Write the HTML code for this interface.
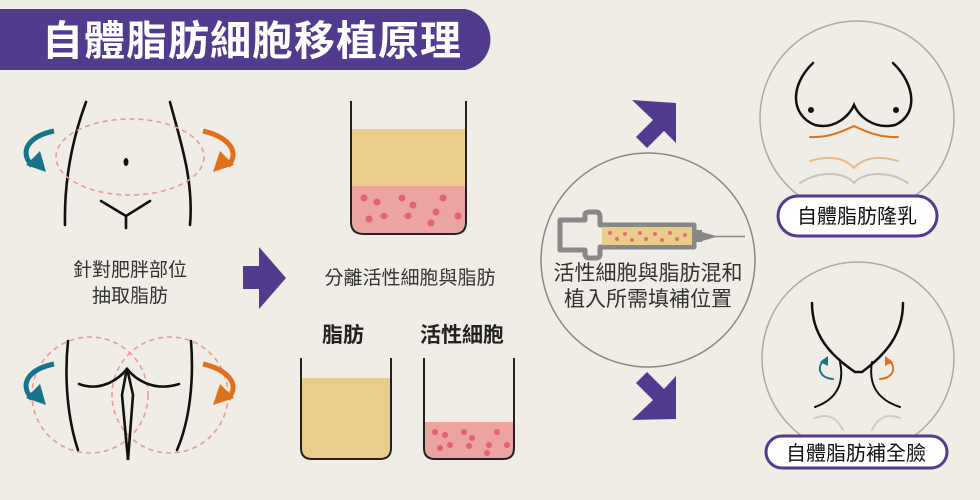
<!DOCTYPE html>
<html><head><meta charset="utf-8"><style>
html,body{margin:0;padding:0;background:#f0ede6;}
svg{display:block}
text{font-family:"Liberation Sans","Noto Sans CJK TC",sans-serif;}
</style></head><body>
<svg width="980" height="500" viewBox="0 0 980 500" xmlns="http://www.w3.org/2000/svg">
<rect width="980" height="500" fill="#f0ede6"/>
<!-- title -->
<path d="M0 9 H465 A31 31 0 0 1 465 70 H0 Z" fill="#523a8e"/>
<text x="252" y="55" font-size="41" fill="#fff" text-anchor="middle" font-weight="bold" letter-spacing="1">自體脂肪細胞移植原理</text>

<!-- top body -->
<g fill="none" stroke="#111" stroke-width="2.6" stroke-linecap="round">
<path d="M86 102 C72 140 64 180 65 225"/>
<path d="M170 102 C180 140 194 180 190 225"/>
<path d="M101 201 L126 216 L150 201 M126 216 V228"/>
</g>
<ellipse cx="126" cy="162" rx="2.5" ry="4" fill="#111"/>
<ellipse cx="130" cy="157" rx="74" ry="38" fill="none" stroke="#e89a98" stroke-width="1.6" stroke-dasharray="5 4"/>
<!-- arrows teal/orange top -->
<path d="M54 131 C30 136 18 150 32 166" fill="none" stroke="#16748a" stroke-width="5"/>
<path d="M26 165 L46 172 L40 151 Z" fill="#16748a"/>
<path d="M203 131 C225 136 242 150 228 166" fill="none" stroke="#e0701c" stroke-width="5"/>
<path d="M234 165 L213 172 L220 151 Z" fill="#e0701c"/>

<text x="130" y="276" font-size="19" fill="#333" text-anchor="middle">針對肥胖部位</text>
<text x="130" y="302" font-size="19" fill="#333" text-anchor="middle">抽取脂肪</text>

<!-- bottom body -->
<circle cx="90" cy="395" r="58" fill="none" stroke="#e89a98" stroke-width="1.6" stroke-dasharray="5 4"/>
<circle cx="170" cy="395" r="58" fill="none" stroke="#e89a98" stroke-width="1.6" stroke-dasharray="5 4"/>
<g fill="none" stroke="#111" stroke-width="2.6" stroke-linecap="round">
<path d="M68 341 C64 380 68 420 78 450"/>
<path d="M191 341 C194 380 190 420 177 450"/>
<path d="M79 384 C100 392 118 380 127 369 C136 380 154 392 179 384"/>
<path d="M127 368 L122 395 L128 460 L133 395 Z"/>
</g>
<path d="M54 364 C30 369 18 383 32 399" fill="none" stroke="#16748a" stroke-width="5"/>
<path d="M26 398 L46 405 L40 384 Z" fill="#16748a"/>
<path d="M203 364 C225 369 242 383 228 399" fill="none" stroke="#e0701c" stroke-width="5"/>
<path d="M234 398 L213 405 L220 384 Z" fill="#e0701c"/>

<!-- right arrow -->
<path d="M243 266 H259 V247 L286 278 L259 309 V289 H243 Z" fill="#523a8e"/>

<!-- beaker 1 -->
<rect x="352" y="129" width="113" height="57" fill="#e9cd88"/>
<path d="M352 186 H465 V222 Q465 233 453 233 H364 Q352 233 352 222 Z" fill="#eba49f"/>
<path d="M351 101 V222 Q351 234 364 234 H454 Q466 234 466 222 V101" fill="none" stroke="#222" stroke-width="2"/>
<g fill="#e36370">
<circle cx="364" cy="198" r="3.5"/><circle cx="377" cy="202" r="3.5"/><circle cx="402" cy="198" r="3.5"/><circle cx="413" cy="205" r="3.5"/><circle cx="443" cy="198" r="3.5"/><circle cx="369" cy="219" r="3.5"/><circle cx="384" cy="216" r="3.5"/><circle cx="408" cy="216" r="3.5"/><circle cx="436" cy="212" r="3.5"/><circle cx="458" cy="216" r="3.5"/><circle cx="431" cy="223" r="3.5"/>
</g>
<text x="410" y="284" font-size="19" fill="#333" text-anchor="middle">分離活性細胞與脂肪</text>
<text x="343" y="342" font-size="21" fill="#222" text-anchor="middle" font-weight="bold">脂肪</text>
<text x="462" y="342" font-size="21" fill="#222" text-anchor="middle" font-weight="bold">活性細胞</text>

<!-- beaker 2 -->
<path d="M302 378 H390 V448 Q390 458 380 458 H312 Q302 458 302 448 Z" fill="#e9cd88"/>
<path d="M301 358 V448 Q301 459 312 459 H380 Q391 459 391 448 V358" fill="none" stroke="#222" stroke-width="2"/>
<!-- beaker 3 -->
<path d="M425 422 H513 V448 Q513 458 503 458 H435 Q425 458 425 448 Z" fill="#eba49f"/>
<path d="M424 358 V448 Q424 459 435 459 H503 Q514 459 514 448 V358" fill="none" stroke="#222" stroke-width="2"/>
<g fill="#e36370">
<circle cx="435" cy="432" r="3"/><circle cx="445" cy="435" r="3"/><circle cx="464" cy="432" r="3"/><circle cx="472" cy="438" r="3"/><circle cx="497" cy="432" r="3"/><circle cx="440" cy="448" r="3"/><circle cx="450" cy="445" r="3"/><circle cx="469" cy="446" r="3"/><circle cx="489" cy="445" r="3"/><circle cx="507" cy="445" r="3"/><circle cx="487" cy="453" r="3"/>
</g>

<!-- diagonal arrows -->
<path d="M632 100 L676 103 L676 143 L664 131 L647 148 L636 137 L653 120 Z" fill="#523a8e"/>
<path d="M632 420 L676 419 L676 376 L664 389 L647 372 L636 383 L653 400 Z" fill="#523a8e"/>

<!-- syringe circle -->
<circle cx="648" cy="260" r="107" fill="#f0ede6" stroke="#888" stroke-width="1.5"/>
<g fill="none" stroke="#888" stroke-width="5" stroke-linejoin="round">
<path d="M560 220 H585 V215 Q585 212 590 212 H596 Q600 212 600 218 V225 H694 V247 H600 V254 Q600 258 596 258 H590 Q585 258 585 254 V250 H560 Z"/>
</g>
<rect x="602" y="227" width="90" height="18" fill="#e9cd88"/>
<g fill="#e56b85">
<circle cx="610" cy="233" r="2"/><circle cx="617" cy="239" r="2"/><circle cx="625" cy="234" r="2"/><circle cx="632" cy="240" r="2"/><circle cx="640" cy="233" r="2"/><circle cx="646" cy="239" r="2"/><circle cx="655" cy="234" r="2"/><circle cx="662" cy="240" r="2"/><circle cx="670" cy="233" r="2"/><circle cx="677" cy="239" r="2"/><circle cx="685" cy="235" r="2"/>
</g>
<rect x="694" y="230" width="8" height="12" fill="#888"/>
<path d="M702 232 L716 236 L716 237 L702 241 Z" fill="#888"/>
<line x1="714" y1="236.5" x2="745" y2="236.5" stroke="#888" stroke-width="1.5"/>
<text x="648" y="280" font-size="21" fill="#333" text-anchor="middle">活性細胞與脂肪混和</text>
<text x="648" y="306" font-size="21" fill="#333" text-anchor="middle">植入所需填補位置</text>

<!-- breast circle -->
<circle cx="857" cy="118" r="97" fill="#f0ede6" stroke="#aaa" stroke-width="1.5"/>
<g fill="none" stroke-linecap="round">
<path d="M813 63 C790 85 790 115 815 125 C835 130 850 115 854 105 C858 115 873 130 895 125 C918 115 916 85 893 63" stroke="#111" stroke-width="2.5"/>
<path d="M810 137 C830 138 845 130 854 126 C863 130 878 138 898 137" stroke="#e0701c" stroke-width="2"/>
<path d="M810 161 C830 155 845 158 854 168 C863 158 878 155 898 161" stroke="#e8b98a" stroke-width="2"/>
<path d="M800 183 C820 170 845 172 854 183 C863 172 888 170 908 183" stroke="#c8c4bd" stroke-width="2"/>
</g>
<circle cx="811" cy="110" r="3" fill="#111"/><circle cx="896" cy="110" r="3" fill="#111"/>
<rect x="778" y="196" width="159" height="40" rx="20" fill="#fff" stroke="#523a8e" stroke-width="3"/>
<text x="857" y="223" font-size="20" fill="#111" text-anchor="middle">自體脂肪隆乳</text>

<!-- face circle -->
<circle cx="858" cy="358" r="96" fill="#f0ede6" stroke="#aaa" stroke-width="1.5"/>
<g fill="none" stroke-linecap="round">
<path d="M812 303 C812 335 830 355 855 372 L862 372 C885 355 903 335 903 303" stroke="#111" stroke-width="2.5"/>
<path d="M840 362 C845 385 835 400 815 407" stroke="#111" stroke-width="2"/>
<path d="M872 362 C868 385 878 400 900 407" stroke="#111" stroke-width="2"/>
<path d="M815 418 C830 412 838 420 843 430" stroke="#ccc" stroke-width="2"/>
<path d="M900 418 C885 412 877 420 872 430" stroke="#ccc" stroke-width="2"/>
<path d="M833 379 C820 378 816 368 824 360" stroke="#16748a" stroke-width="2"/>
<path d="M880 379 C893 378 897 368 889 360" stroke="#e0701c" stroke-width="2"/>
</g>
<path d="M820 362 L828 356 L828 366 Z" fill="#16748a"/>
<path d="M893 362 L885 356 L885 366 Z" fill="#e0701c"/>
<rect x="766" y="436" width="181" height="32" rx="16" fill="#fff" stroke="#523a8e" stroke-width="3"/>
<text x="856" y="460" font-size="20" fill="#111" text-anchor="middle">自體脂肪補全臉</text>
</svg>
</body></html>
